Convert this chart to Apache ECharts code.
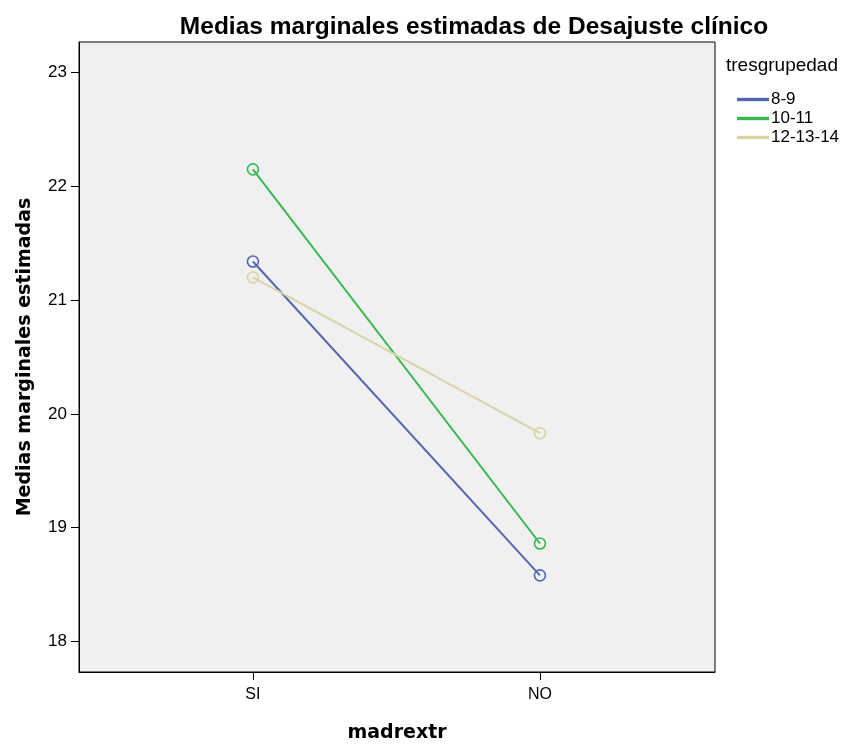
<!DOCTYPE html>
<html><head><meta charset="utf-8">
<script src="https://cdn.jsdelivr.net/npm/echarts@6/dist/echarts.min.js"></script>
<style>html,body{margin:0;padding:0;background:#fff}#c{width:844px;height:744px}</style>
</head><body><div id="c"></div>
<script>
const categories = ['SI', 'NO'];
const seriesNames = ['8-9', '10-11', '12-13-14'];
const values_8_9 = [21.34, 18.58];
const values_10_11 = [22.15, 18.86];
const values_12_14 = [21.20, 19.83];
const yTicks = [18, 19, 20, 21, 22, 23];
const colors = ['#5566b0', '#38b84f', '#d8d4a6'];

const allValues = [values_8_9, values_10_11, values_12_14];
const chart = echarts.init(document.getElementById('c'));
const font = 'Arial, "Liberation Sans", sans-serif';
const boldFont = '"DejaVu Sans", Verdana, sans-serif';
chart.setOption({
  animation: false,
  backgroundColor: '#fff',
  title: {
    text: 'Medias marginales estimadas de Desajuste clínico',
    left: 469, top: 10, textAlign: 'center',
    textStyle: {fontFamily: font, fontSize: 24.5, fontWeight: 'bold', color: '#000'}
  },
  graphic: [{
    type: 'text', left: 726, top: 56,
    style: {text: 'tresgrupedad', fontFamily: font, fontSize: 19, fill: '#000'}
  }],
  legend: {
    orient: 'vertical', left: 732, top: 86, itemGap: 2,
    itemWidth: 30, itemHeight: 17,
    icon: 'path://M0,7.8 L30,7.8 L30,9.2 L0,9.2 Z',
    textStyle: {fontFamily: font, fontSize: 17, color: '#000', padding: [0, 0, 0, -2]},
    data: seriesNames
  },
  grid: {left: 79, right: 129, top: 42, bottom: 72, containLabel: false, outerBoundsMode: 'none', show: true, backgroundColor: '#f0f0f0', borderColor: '#000', borderWidth: 1},
  xAxis: {
    type: 'value', min: -0.606, max: 1.61,
    name: 'madrextr', nameLocation: 'middle', nameGap: 52,
    nameTextStyle: {fontFamily: boldFont, fontSize: 19, fontWeight: 'bold', color: '#000'},
    axisLine: {show: true, onZero: false, lineStyle: {color: '#000'}},
    axisTick: {show: true, customValues: [0, 1], length: 8, lineStyle: {color: '#000'}},
    axisLabel: {customValues: [0, 1], formatter: v => categories[Math.round(v)] || '', fontFamily: font, fontSize: 16, color: '#000', margin: 15},
    splitLine: {show: false}
  },
  yAxis: {
    type: 'value', min: 17.73, max: 23.27,
    name: 'Medias marginales estimadas', nameLocation: 'middle', nameGap: 44,
    nameTextStyle: {fontFamily: boldFont, fontSize: 19, fontWeight: 'bold', color: '#000'},
    axisLine: {show: true, onZero: false, lineStyle: {color: '#000'}},
    axisTick: {show: true, customValues: yTicks, length: 8, lineStyle: {color: '#000'}},
    axisLabel: {customValues: yTicks, fontFamily: font, fontSize: 17, color: '#000', margin: 12},
    splitLine: {show: false}
  },
  series: seriesNames.map((n, i) => ({
    name: n, type: 'line',
    data: allValues[i].map((v, j) => [j, v]),
    symbol: 'circle', symbolSize: 11, showSymbol: true,
    itemStyle: {color: 'rgba(0,0,0,0)', borderColor: colors[i], borderWidth: 1.6},
    lineStyle: {color: colors[i], width: 2},
    color: colors[i]
  }))
});
</script></body></html>
